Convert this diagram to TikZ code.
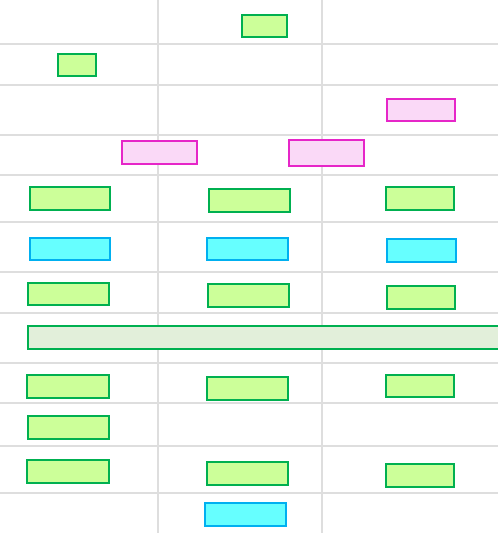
\documentclass[tikz,border=0pt]{standalone}
\usepackage{tikz}

\definecolor{taskline}{HTML}{00B050}
\definecolor{taskfill}{HTML}{CCFF99}
\definecolor{mileline}{HTML}{E626C8}
\definecolor{milefill}{HTML}{FAD9F7}
\definecolor{testline}{HTML}{00B0F0}
\definecolor{testfill}{HTML}{66FFFF}
\definecolor{spanfill}{HTML}{E2EFDA}
\definecolor{gridgray}{HTML}{DEDEDE}

\newcommand*{\wpic}{498}
\newcommand*{\hpic}{533}

\begin{document}
\begin{tikzpicture}
[
	x=1pt, y=-1pt,
	gridline/.style={gridgray,line width=1.3pt},
	taskbox/.style={draw=taskline,fill=taskfill,line width=2.4pt},
	milebox/.style={draw=mileline,fill=milefill,line width=2.4pt},
	testbox/.style={draw=testline,fill=testfill,line width=2.4pt},
	spanbox/.style={draw=taskline,fill=spanfill,line width=2.4pt}
]

	\clip (0,0) rectangle (\wpic,\hpic);
	\fill[white] (0,0) rectangle (\wpic,\hpic);

	% grid
	\foreach \gx in {158,322}
		\draw[gridline] (\gx,0) -- (\gx,\hpic);
	\foreach \gy in {44,85,135,175,222,272,313,363,403,446,493}
		\draw[gridline] (0,\gy) -- (\wpic,\gy);

	% top rows
	\draw[taskbox] (242.2,15.2) rectangle (286.8,36.8);
	\draw[taskbox] (58.2,54.2) rectangle (95.8,75.8);
	\draw[milebox] (387.2,99.2) rectangle (454.8,120.8);
	\draw[milebox] (122.2,141.2) rectangle (196.8,163.8);
	\draw[milebox] (289.2,140.2) rectangle (363.8,165.8);

	% three columns
	\draw[taskbox] (30.2,187.2) rectangle (109.8,209.8);
	\draw[taskbox] (209.2,189.2) rectangle (289.8,211.8);
	\draw[taskbox] (386.2,187.2) rectangle (453.8,209.8);

	\draw[testbox] (30.2,238.2) rectangle (109.8,259.8);
	\draw[testbox] (207.2,238.2) rectangle (287.8,259.8);
	\draw[testbox] (387.2,239.2) rectangle (455.8,261.8);

	\draw[taskbox] (28.2,283.2) rectangle (108.8,304.8);
	\draw[taskbox] (208.2,284.2) rectangle (288.8,306.8);
	\draw[taskbox] (387.2,286.2) rectangle (454.8,308.8);

	% long span
	\draw[spanbox] (28.2,326.2) rectangle (510,348.8);

	\draw[taskbox] (27.2,375.2) rectangle (108.8,397.8);
	\draw[taskbox] (207.2,377.2) rectangle (287.8,399.8);
	\draw[taskbox] (386.2,375.2) rectangle (453.8,396.8);

	\draw[taskbox] (28.2,416.2) rectangle (108.8,438.8);

	\draw[taskbox] (27.2,460.2) rectangle (108.8,482.8);
	\draw[taskbox] (207.2,462.2) rectangle (287.8,484.8);
	\draw[taskbox] (386.2,464.2) rectangle (453.8,486.8);

	\draw[testbox] (205.2,503.2) rectangle (285.8,525.8);

\end{tikzpicture}
\end{document}
